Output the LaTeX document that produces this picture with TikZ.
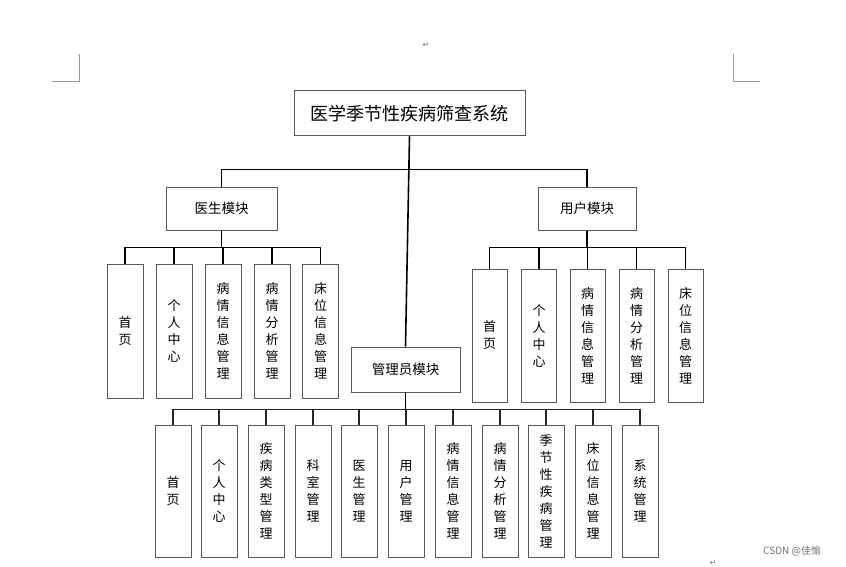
\documentclass[tikz,border=0pt]{standalone}
\usepackage{fontspec}
\newfontfamily\cjk{Noto Sans CJK SC}
\newfontfamily\dejavu{DejaVu Sans}
\begin{document}
\begin{tikzpicture}[x=1pt,y=-1pt,
  box/.style={draw=black!65, line width=1pt, rectangle, inner sep=0pt, fill=white,
              font=\cjk\fontsize{13}{17}\selectfont, align=center},
  dbox/.style={box, minimum width=36pt, minimum height=134pt},
  ubox/.style={box, minimum width=35pt, minimum height=133pt},
  abox/.style={box, minimum width=36pt, minimum height=132pt},
  link/.style={draw=black, line width=1.6pt},
  alink/.style={draw=black!85, line width=1.2pt},
  cropmark/.style={draw=black!40, line width=0.8pt},
  faint/.style={text=black!55, inner sep=0pt}
]
\useasboundingbox (0,0) rectangle (846,567);
\fill[white] (0,0) rectangle (846,567);

% page marks
\draw[cropmark] (52,81) -- (79,81) -- (79,54);
\draw[cropmark] (733,54) -- (733,81) -- (760,81);
\node[faint, font=\dejavu\fontsize{8}{8}\selectfont] (r1) at (426,45) {↵};
\node[faint, font=\dejavu\fontsize{8}{8}\selectfont] (r2) at (713,563) {↵};
\node[faint, font=\cjk\fontsize{10}{10}\selectfont, anchor=west] (wm) at (763,551) {CSDN @佳愉};

% main nodes
\node[box, minimum width=231pt, minimum height=45pt, font=\cjk\fontsize{18}{20}\selectfont] (top) at (409.5,113.5) {医学季节性疾病筛查系统};
\node[box, minimum width=111pt, minimum height=43pt, font=\cjk\fontsize{13.5}{16}\selectfont] (doc) at (221.5,208.5) {医生模块};
\node[box, minimum width=98pt, minimum height=43pt, font=\cjk\fontsize{13.5}{16}\selectfont] (usr) at (587,208.5) {用户模块};
\node[box, minimum width=109pt, minimum height=45pt, font=\cjk\fontsize{13.5}{16}\selectfont] (adm) at (405.5,369.5) {管理员模块};

% doctor children
\node[dbox] (d1) at (125,331) {首\\页};
\node[dbox] (d2) at (174,331) {个\\人\\中\\心};
\node[dbox] (d3) at (223,331) {病\\情\\信\\息\\管\\理};
\node[dbox] (d4) at (272,331) {病\\情\\分\\析\\管\\理};
\node[dbox] (d5) at (320.5,331) {床\\位\\信\\息\\管\\理};

% user children
\node[ubox] (u1) at (489.5,335.5) {首\\页};
\node[ubox] (u2) at (539,335.5) {个\\人\\中\\心};
\node[ubox] (u3) at (587.5,335.5) {病\\情\\信\\息\\管\\理};
\node[ubox] (u4) at (636.5,335.5) {病\\情\\分\\析\\管\\理};
\node[ubox] (u5) at (685.5,335.5) {床\\位\\信\\息\\管\\理};

% admin children
\node[abox] (a1) at (173,491) {首\\页};
\node[abox] (a2) at (219,491) {个\\人\\中\\心};
\node[abox] (a3) at (266,491) {疾\\病\\类\\型\\管\\理};
\node[abox] (a4) at (313,491) {科\\室\\管\\理};
\node[abox] (a5) at (359,491) {医\\生\\管\\理};
\node[abox] (a6) at (406,491) {用\\户\\管\\理};
\node[abox] (a7) at (453,491) {病\\情\\信\\息\\管\\理};
\node[abox] (a8) at (500,491) {病\\情\\分\\析\\管\\理};
\node[abox] (a9) at (546,491) {季\\节\\性\\疾\\病\\管\\理};
\node[abox] (a10) at (593,491) {床\\位\\信\\息\\管\\理};
\node[abox] (a11) at (640,491) {系\\统\\管\\理};

% connectors
\draw[link] (top.south) -- ++(0,33) -| (doc.north);
\draw[link] (top.south) -- ++(0,33) -| (usr.north);
\draw[link] (top.south) -- (adm.north);
\foreach \i in {1,...,5} {
  \draw[link] (doc.south) -- ++(0,17) -| (d\i.north);
  \draw[link] (usr.south) -- ++(0,17) -| (u\i.north);
}
\foreach \i in {1,...,11} {
  \draw[alink] (adm.south) -- ++(0,17) -| (a\i.north);
}
\draw[link] (adm.south) -- ++(0,17);
\end{tikzpicture}
\end{document}
